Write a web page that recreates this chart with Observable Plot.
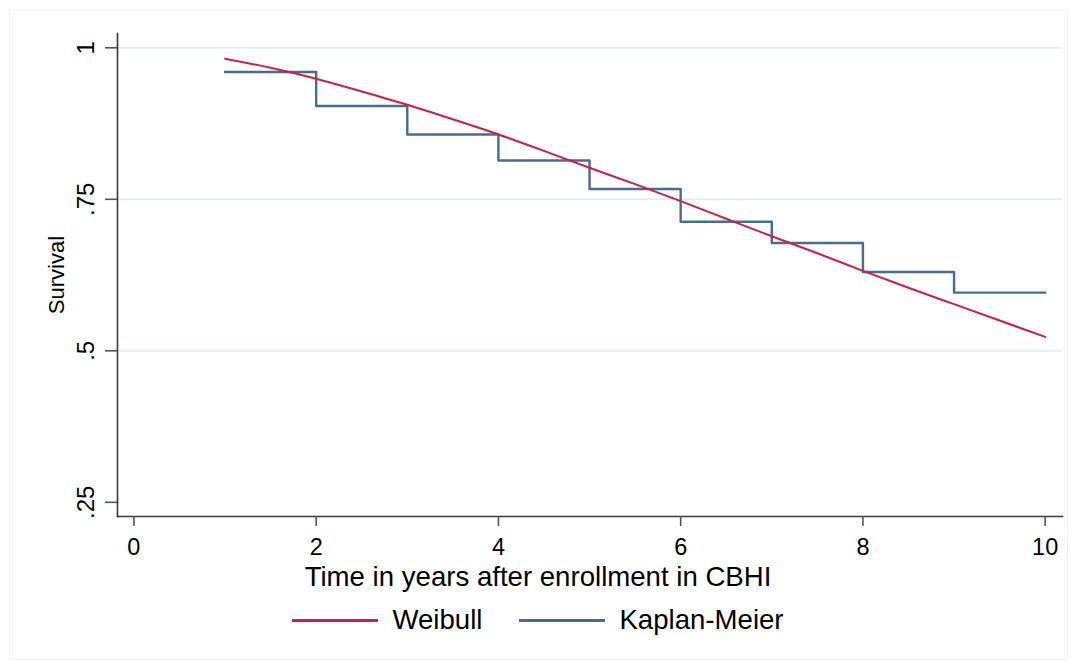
<!DOCTYPE html>
<html>
<head>
<meta charset="utf-8">
<script src="https://cdn.jsdelivr.net/npm/d3@7"></script>
<script src="https://cdn.jsdelivr.net/npm/@observablehq/plot@0.6"></script>
<style>
  html, body { margin: 0; padding: 0; background: #fff; }
  body { width: 1076px; height: 668px; position: relative; overflow: hidden; font-family: "Liberation Sans", Arial, sans-serif; }
  #border { position: absolute; left: 9px; top: 10px; right: 8px; bottom: 8px; border: 1px solid #f0f2f2; pointer-events: none; }
  #chart svg { display: block; }
  #xtitle { text-align: center; font-size: 27.6px; line-height: 30px; color: #000; width: 1076px; }
  #legend { display: flex; justify-content: center; align-items: center; margin-top: 13px; font-size: 27.6px; line-height: 30px; width: 1076px; }
  .item { display: flex; align-items: center; }
  .sw { width: 86px; height: 3px; margin-right: 14px; }
  .gap { width: 37px; }
</style>
</head>
<body>
<div id="border"></div>
<div id="chart"></div>
<div id="xtitle"></div>
<div id="legend"></div>
<script>
// Kaplan-Meier step estimates (year, survival)
const kmTime = [1, 2, 3, 4, 5, 6, 7, 8, 9, 10];
const kmSurv = [0.960, 0.904, 0.857, 0.814, 0.767, 0.713, 0.678, 0.630, 0.596, 0.596];

// Weibull fitted curve
const wbTime = [1, 1.5, 2, 2.5, 3, 3.5, 4, 4.5, 5, 5.5, 6, 6.5, 7, 7.5, 8, 8.5, 9, 9.5, 10];
const wbSurv = [0.982, 0.967, 0.949, 0.928, 0.906, 0.882, 0.857, 0.830, 0.802, 0.775, 0.747, 0.718, 0.689, 0.661, 0.632, 0.604, 0.577, 0.550, 0.523];

const xTicks = [0, 2, 4, 6, 8, 10];
const yTicks = [0.25, 0.5, 0.75, 1];
const yTickLabels = [".25", ".5", ".75", "1"];
const yGrid = [0.5, 0.75, 1];

const seriesNames = ["Weibull", "Kaplan-Meier"];
const seriesColors = ["#cf1d4b", "#476c8e"];

const xTitle = "Time in years after enrollment in CBHI";
const yTitle = "Survival";

const km = kmTime.map((t, i) => ({t, s: kmSurv[i]}));
const wb = wbTime.map((t, i) => ({t, s: wbSurv[i]}));

const plot = Plot.plot({
  width: 1076,
  height: 562,
  marginLeft: 117,
  marginRight: 14,
  marginTop: 33,
  marginBottom: 46,
  style: {fontFamily: "'Liberation Sans', Arial, sans-serif", background: "transparent", color: "#000"},
  x: {domain: [-0.18, 10.19]},
  y: {domain: [0.2266, 1.0236]},
  marks: [
    Plot.gridY(yGrid, {stroke: "#e3eef0", strokeOpacity: 1, strokeWidth: 2}),
    Plot.frame({anchor: "left", stroke: "#3a3a3a", strokeWidth: 1.6}),
    Plot.frame({anchor: "bottom", stroke: "#3a3a3a", strokeWidth: 1.6}),
    Plot.axisY(yTicks, {
      tickSize: 12, stroke: "#555", strokeWidth: 1.6, text: null, label: null
    }),
    Plot.text(yTicks, {
      y: d => d, text: (d, i) => yTickLabels[i], frameAnchor: "left", rotate: -90,
      dx: -31, textAnchor: "middle", lineAnchor: "middle", fontSize: 24, fill: "#000"
    }),
    Plot.text([yTitle], {
      text: d => d, frameAnchor: "left", rotate: -90, dx: -61,
      textAnchor: "middle", lineAnchor: "middle", fontSize: 22, fill: "#000"
    }),
    Plot.axisX(xTicks, {
      tickSize: 10, tickPadding: 12, fontSize: 23.5,
      stroke: "#555", strokeWidth: 1.6, label: null
    }),
    Plot.line(km, {x: "t", y: "s", curve: "step-after", stroke: seriesColors[1], strokeWidth: 2.4}),
    Plot.line(wb, {x: "t", y: "s", curve: "monotone-x", stroke: seriesColors[0], strokeWidth: 2})
  ]
});
document.getElementById("chart").appendChild(plot);

document.getElementById("xtitle").textContent = xTitle;

const legend = document.getElementById("legend");
seriesNames.forEach((name, i) => {
  if (i > 0) { const g = document.createElement("div"); g.className = "gap"; legend.appendChild(g); }
  const item = document.createElement("div");
  item.className = "item";
  const sw = document.createElement("div");
  sw.className = "sw";
  sw.style.background = seriesColors[i];
  const lab = document.createElement("span");
  lab.textContent = name;
  item.appendChild(sw);
  item.appendChild(lab);
  legend.appendChild(item);
});
</script>
</body>
</html>
